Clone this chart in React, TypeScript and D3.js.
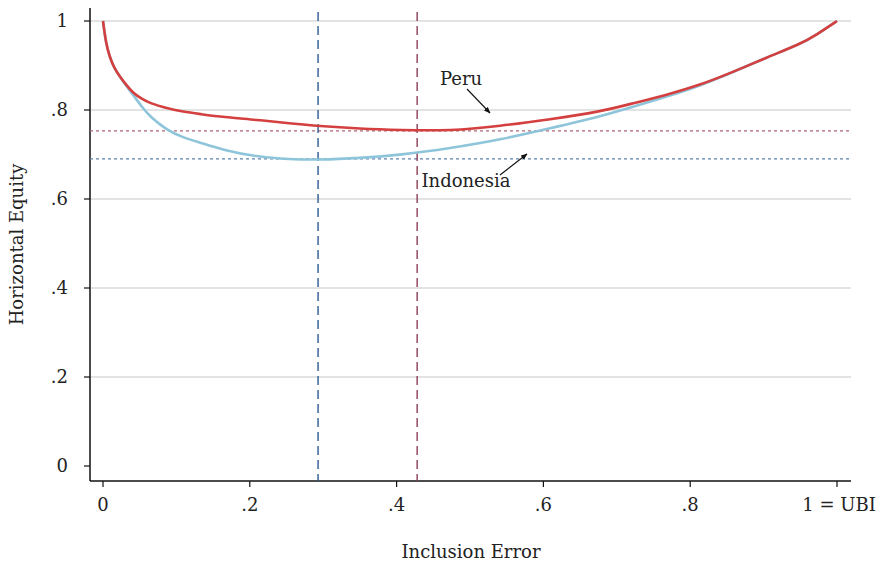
import React from "react";
import * as d3 from "d3";

const xVals = [0, 0.004, 0.009, 0.015, 0.023, 0.03, 0.041, 0.053, 0.064, 0.087, 0.109, 0.132, 0.164, 0.209, 0.255, 0.293, 0.35, 0.405, 0.473, 0.541, 0.609, 0.677, 0.722, 0.768, 0.813, 0.858, 0.904, 0.95, 0.972, 1.0];
const peru = [1.0, 0.95, 0.92, 0.895, 0.875, 0.86, 0.838, 0.825, 0.815, 0.804, 0.796, 0.791, 0.784, 0.778, 0.77, 0.764, 0.758, 0.755, 0.753, 0.764, 0.779, 0.796, 0.815, 0.834, 0.856, 0.885, 0.918, 0.948, 0.969, 1.0];
const indonesia = [1.0, 0.95, 0.92, 0.895, 0.875, 0.858, 0.834, 0.807, 0.785, 0.755, 0.738, 0.727, 0.71, 0.695, 0.689, 0.688, 0.692, 0.699, 0.714, 0.733, 0.759, 0.785, 0.807, 0.83, 0.854, 0.885, 0.918, 0.948, 0.969, 1.0];
const xTicks = [0, 0.2, 0.4, 0.6, 0.8, 1];
const xTickLabels = ["0", ".2", ".4", ".6", ".8", "1 = UBI"];
const yTicks = [0, 0.2, 0.4, 0.6, 0.8, 1];
const yTickLabels = ["0", ".2", ".4", ".6", ".8", "1"];
const optIndonesia = 0.293;
const optPeru = 0.428;
const hePeru = 0.753;
const heIndonesia = 0.69;

export default function App() {
  const W = 879, H = 566;
  const x = d3.scaleLinear().domain([0, 1]).range([103, 837]);
  const y = d3.scaleLinear().domain([0, 1]).range([466, 21]);
  const left = 90, right = 851, bottom = 481, top = 8;
  const line = d3.line<number>().x((_, i) => x(xVals[i])).y(d => y(d)).curve(d3.curveBasis);
  const font = "'DejaVu Serif', serif";
  const fs = 18;
  return (
    <svg width={W} height={H} style={{ position: "absolute", left: 0, top: 0, background: "#fff" }} fontFamily={font}>
      <defs>
        <marker id="ah" viewBox="0 0 10 10" refX="9" refY="5" markerWidth="6" markerHeight="6" orient="auto">
          <path d="M0,1 L10,5 L0,9 Z" fill="#111" />
        </marker>
      </defs>
      {yTicks.map((t, i) => (
        <g key={i}>
          {t > 0 && <line x1={left} x2={right} y1={y(t)} y2={y(t)} stroke="#c8c8c8" strokeWidth={1.2} />}
          <line x1={left - 6} x2={left} y1={y(t)} y2={y(t)} stroke="#111" strokeWidth={1.2} />
          <text x={left - 22} y={y(t)} dy="0.35em" textAnchor="end" fontSize={fs} fill="#222">{yTickLabels[i]}</text>
        </g>
      ))}
      <line x1={left} x2={right} y1={bottom} y2={bottom} stroke="#111" strokeWidth={1.5} />
      <line x1={left} x2={left} y1={top} y2={bottom} stroke="#111" strokeWidth={1.5} />
      {xTicks.map((t, i) => (
        <g key={i}>
          <line x1={x(t)} x2={x(t)} y1={bottom} y2={bottom + 6} stroke="#111" strokeWidth={1.2} />
          <text x={x(t)} dx={i === xTicks.length - 1 ? 2 : 0} y={bottom + 30} textAnchor="middle" fontSize={fs} fill="#222">{xTickLabels[i]}</text>
        </g>
      ))}
      <line x1={left} x2={right} y1={y(hePeru)} y2={y(hePeru)} stroke="#b06575" strokeWidth={1.3} strokeDasharray="3,3" />
      <line x1={left} x2={right} y1={y(heIndonesia)} y2={y(heIndonesia)} stroke="#5f83aa" strokeWidth={1.3} strokeDasharray="3,3" />
      <line x1={x(optIndonesia)} x2={x(optIndonesia)} y1={12} y2={bottom} stroke="#2a5a92" strokeWidth={1.4} strokeDasharray="9,5" />
      <line x1={x(optPeru)} x2={x(optPeru)} y1={12} y2={bottom} stroke="#8e3e55" strokeWidth={1.4} strokeDasharray="9,5" />
      <path d={line(indonesia) || ""} fill="none" stroke="#8ec5da" strokeWidth={2.6} />
      <path d={line(peru) || ""} fill="none" stroke="#d43f3f" strokeWidth={2.6} />
      <text x={461} y={85} textAnchor="middle" fontSize={fs} fill="#222">Peru</text>
      <line x1={467} y1={89} x2={490} y2={113} stroke="#111" strokeWidth={1.1} markerEnd="url(#ah)" />
      <text x={466} y={187} textAnchor="middle" fontSize={fs} fill="#222">Indonesia</text>
      <line x1={500} y1={175} x2={527} y2={154} stroke="#111" strokeWidth={1.1} markerEnd="url(#ah)" />
      <text x={471} y={558} textAnchor="middle" fontSize={fs} fill="#222">Inclusion Error</text>
      <text transform={`translate(23, ${(top + bottom) / 2}) rotate(-90)`} textAnchor="middle" fontSize={fs} fill="#222">Horizontal Equity</text>
    </svg>
  );
}
